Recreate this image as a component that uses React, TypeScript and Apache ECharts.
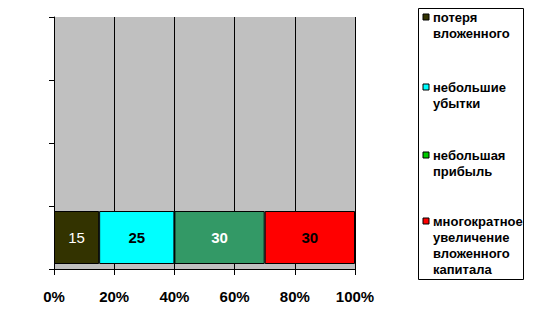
import React, { useEffect, useRef } from 'react';
import * as echarts from 'echarts';

const categories = ['a', 'b', 'c', 'd'];
const seriesNames = [
  'потеря вложенного',
  'небольшие убытки',
  'небольшая прибыль',
  'многократное увеличение вложенного капитала',
];
const legendLines = [
  ['потеря', 'вложенного'],
  ['небольшие', 'убытки'],
  ['небольшая', 'прибыль'],
  ['многократное', 'увеличение', 'вложенного', 'капитала'],
];
const lossAll = [15, null, null, null];
const smallLoss = [25, null, null, null];
const smallProfit = [30, null, null, null];
const multiGrowth = [30, null, null, null];
const seriesValues = [lossAll, smallLoss, smallProfit, multiGrowth];

const barColors = ['#333300', '#00FFFF', '#339966', '#FF0000'];
const legendColors = ['#333300', '#00FFFF', '#00CC00', '#FF0000'];
const labelColors = ['#FFFFFF', '#000000', '#FFFFFF', '#000000'];
const labelWeights = ['normal', 'bold', 'bold', 'bold'];
const legendTops = [9, 79, 147, 213];

const FONT = '"Liberation Sans", Arial, sans-serif';

export default function App() {
  const ref = useRef<HTMLDivElement>(null);
  useEffect(() => {
    if (!ref.current) return;
    const chart = echarts.init(ref.current, null, { renderer: 'svg' });
    const legendGraphics: any[] = [
      {
        type: 'rect',
        shape: { x: 418.5, y: 8.5, width: 105, height: 271 },
        style: { fill: '#FFFFFF', stroke: '#000000', lineWidth: 1 },
      },
    ];
    legendLines.forEach((lines, i) => {
      const top = legendTops[i];
      legendGraphics.push({
        type: 'rect',
        shape: { x: 423, y: top + 5, width: 6, height: 6 },
        style: { fill: legendColors[i], stroke: '#000000', lineWidth: 1 },
      });
      legendGraphics.push({
        type: 'text',
        x: 433,
        y: top,
        style: {
          text: lines.join('\n'),
          font: `bold 13px ${FONT}`,
          fill: '#000000',
          lineHeight: 16,
          textVerticalAlign: 'top',
        },
      });
    });
    chart.setOption({
      animation: false,
      backgroundColor: '#FFFFFF',
      grid: {
        left: 54,
        top: 17,
        width: 301,
        height: 252,
        show: true,
        backgroundColor: '#C0C0C0',
        borderWidth: 0,
      },
      xAxis: {
        type: 'value',
        min: 0,
        max: 100,
        interval: 20,
        axisLine: { show: true, lineStyle: { color: '#000', width: 1 } },
        axisTick: { show: true, length: 6, lineStyle: { color: '#000' } },
        splitLine: { show: true, lineStyle: { color: '#000', width: 1 } },
        axisLabel: {
          formatter: '{value}%',
          fontFamily: FONT,
          fontWeight: 'bold',
          fontSize: 15,
          color: '#000',
          margin: 20,
        },
      },
      yAxis: {
        type: 'category',
        data: categories,
        boundaryGap: true,
        axisLine: { show: true, lineStyle: { color: '#000', width: 1 } },
        axisTick: { show: true, length: 5, lineStyle: { color: '#000' } },
        axisLabel: { show: false },
        splitLine: { show: false },
      },
      graphic: legendGraphics,
      series: seriesNames.map((name, i) => ({
        name,
        type: 'bar',
        stack: 'total',
        barWidth: 53,
        data: seriesValues[i],
        itemStyle: { color: barColors[i], borderColor: '#000', borderWidth: 1 },
        label: {
          show: true,
          position: 'inside',
          color: labelColors[i],
          fontWeight: labelWeights[i],
          fontSize: 15,
          fontFamily: FONT,
        },
      })),
    });
    return () => chart.dispose();
  }, []);
  return (
    <div
      ref={ref}
      style={{ position: 'absolute', left: 0, top: 0, width: 548, height: 324 }}
    />
  );
}
